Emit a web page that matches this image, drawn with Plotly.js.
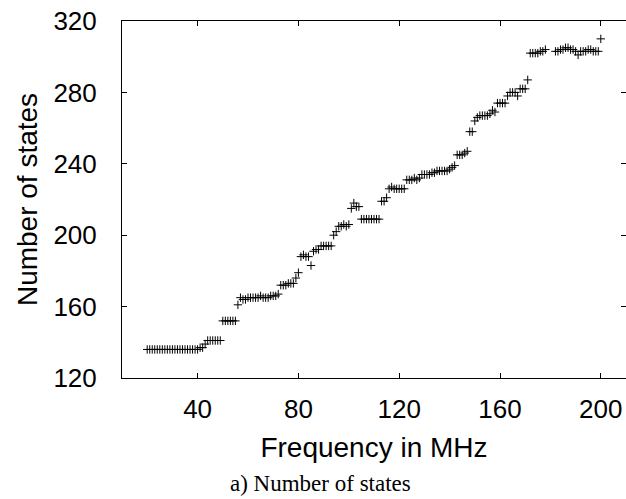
<!DOCTYPE html>
<html>
<head>
<meta charset="utf-8">
<script src="https://cdn.plot.ly/plotly-3.0.1.min.js"></script>
<style>html,body{margin:0;padding:0;background:#fff;}#chart{width:626px;height:499px;}</style>
</head>
<body>
<div id="chart"></div>
<script>
const frequencyMHz = [
  20,21,22,23,24,25,26,27,28,29,
  30,31,32,33,34,35,36,37,38,39,
  40,41,42,43,44,45,46,47,48,49,
  50,51,52,53,54,55,56,57,58,59,
  60,61,62,63,64,65,66,67,68,69,
  70,71,72,73,74,75,76,77,78,79,
  80,81,82,83,84,85,86,87,88,89,
  90,91,92,93,94,95,96,97,98,99,
  100,101,102,103,104,105,106,107,108,109,
  110,111,112,113,114,115,116,117,118,119,
  120,121,122,123,124,125,126,127,128,129,
  130,131,132,133,134,135,136,137,138,139,
  140,141,142,143,144,145,146,147,148,149,
  150,151,152,153,154,155,156,157,158,159,
  160,161,162,163,164,165,166,167,168,169,
  170,171,172,173,174,175,176,177,178,179,
  180,181,182,183,184,185,186,187,188,189,
  190,191,192,193,194,195,196,197,198,199,
  200
];
const numberOfStates = [
  136,136,136,136,136,136,136,136,136,136,
  136,136,136,136,136,136,136,136,136,136,
  136,137,137,139,141,141,141,141,141,141,
  152,152,152,152,152,152,161,165,164,164,
  165,165,165,165,165,166,165,165,165,166,
  166,166,167,172,172,172,173,173,173,176,
  179,188,189,188,188,183,191,192,192,194,
  194,194,194,194,200,202,205,205,206,205,
  206,215,218,216,216,209,209,209,209,209,
  209,209,209,219,219,221,226,227,226,226,
  226,226,226,231,231,231,232,231,232,234,
  234,234,234,235,235,236,236,236,236,236,
  237,238,239,245,245,245,246,247,258,258,
  264,266,267,267,267,267,268,270,269,274,
  274,274,274,278,280,280,280,278,282,282,
  282,287,302,302,302,302,303,303,304,null,
  null,null,303,303,304,304,305,305,304,304,
  303,301,303,303,303,304,304,303,303,303,
  310
];
const xTicks = [40, 80, 120, 160, 200];
const yTicks = [120, 160, 200, 240, 280, 320];

const tickFont = {family: 'Liberation Sans, Arial, sans-serif', size: 26, color: '#000'};
const titleFont = {family: 'Liberation Sans, Arial, sans-serif', size: 28, color: '#000'};

Plotly.newPlot('chart', [{
  x: frequencyMHz,
  y: numberOfStates,
  type: 'scatter',
  mode: 'markers',
  marker: {symbol: 'cross-thin', size: 6, color: '#000', line: {width: 1, color: '#000'}},
  showlegend: false,
  hoverinfo: 'skip'
}], {
  width: 626, height: 499,
  margin: {l: 122, r: 0, t: 21, b: 121, pad: 0},
  paper_bgcolor: '#fff', plot_bgcolor: '#fff',
  showlegend: false,
  xaxis: {
    range: [10, 210], tickvals: xTicks, ticktext: xTicks.map(String),
    ticks: 'inside', ticklen: 5, tickwidth: 1, tickcolor: '#000',
    showline: true, linecolor: '#000', linewidth: 1, mirror: 'ticks',
    showgrid: false, zeroline: false,
    tickfont: tickFont, ticklabelstandoff: 8,
    title: {text: 'Frequency in MHz', font: titleFont, standoff: 14}
  },
  yaxis: {
    range: [120, 320], tickvals: yTicks, ticktext: yTicks.map(String),
    ticks: 'inside', ticklen: 5, tickwidth: 1, tickcolor: '#000',
    showline: true, linecolor: '#000', linewidth: 1, mirror: 'ticks',
    showgrid: false, zeroline: false,
    tickfont: tickFont, ticklabelstandoff: 19,
    title: {text: 'Number of states', font: titleFont, standoff: 7}
  },
  annotations: [{
    text: 'a) Number of states', xref: 'paper', yref: 'paper',
    x: 0.393, y: -0.295, xanchor: 'center', yanchor: 'middle', showarrow: false,
    font: {family: 'Liberation Serif, Times New Roman, serif', size: 23, color: '#000'}
  }]
}, {displayModeBar: false, staticPlot: true});
</script>
</body>
</html>
